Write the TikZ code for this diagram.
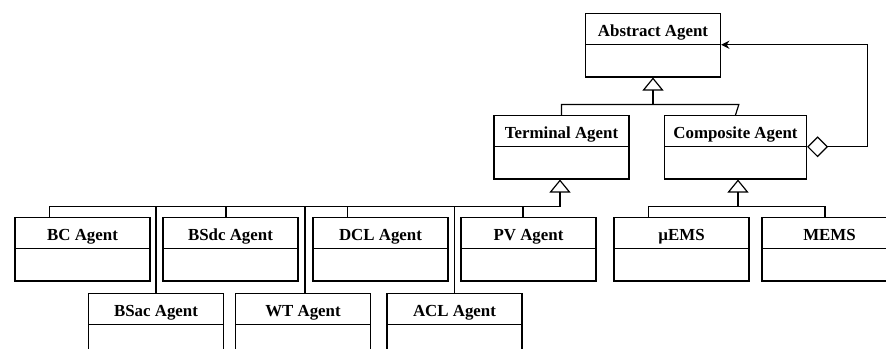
\documentclass[tikz,border=0pt]{standalone}
\usepackage{fontspec}
\setmainfont{Liberation Serif}
\usetikzlibrary{shapes.multipart, arrows.meta, calc}
\newcommand{\hdstrut}{\rule[-0.24cm]{0pt}{0.9cm}}
\newcommand{\bdstrut}{\rule{0pt}{0.93cm}}

\begin{document}
\begin{tikzpicture}[x=0.03cm, y=-0.03cm, line width=1pt,
    agent/.style={draw, rectangle split, rectangle split parts=2, anchor=north,
        minimum width=4.05cm, inner ysep=0pt, font=\fontsize{14.4}{16}\selectfont\bfseries},
    inh/.style={draw, -{Triangle[open, length=0.39cm, width=0.63cm]}},
    agg/.style={draw, {Diamond[open, length=0.63cm, width=0.63cm]}-{Stealth[length=0.25cm, width=0.25cm]}}
]
    \clip (0,0) rectangle (886,349);
    % top levels
    \node[agent] (abs)  at (653,13)    {\hdstrut Abstract Agent\nodepart{second}\bdstrut};
    \node[agent] (term) at (561.5,115) {\hdstrut Terminal Agent\nodepart{second}\bdstrut};
    \node[agent, minimum width=4.26cm] (comp) at (735.5,115) {\hdstrut Composite Agent\nodepart{second}\bdstrut};
    % terminal agents
    \node[agent] (bc)   at (82.5,217)  {\hdstrut BC Agent\nodepart{second}\bdstrut};
    \node[agent] (bsdc) at (230.5,217) {\hdstrut BSdc Agent\nodepart{second}\bdstrut};
    \node[agent] (dcl)  at (380.5,217) {\hdstrut DCL Agent\nodepart{second}\bdstrut};
    \node[agent] (pv)   at (528.5,217) {\hdstrut PV Agent\nodepart{second}\bdstrut};
    \node[agent] (bsac) at (156,293)   {\hdstrut BSac Agent\nodepart{second}\bdstrut};
    \node[agent] (wt)   at (303,293)   {\hdstrut WT Agent\nodepart{second}\bdstrut};
    \node[agent] (acl)  at (454.5,293) {\hdstrut ACL Agent\nodepart{second}\bdstrut};
    % composite agents
    \node[agent] (uems) at (681.5,217) {\hdstrut µEMS\nodepart{second}\bdstrut};
    \node[agent] (mems) at (829.5,217) {\hdstrut MEMS\nodepart{second}\bdstrut};

    \coordinate (aj) at ($(abs.south)+(0,27)$);
    \coordinate (tj) at ($(term.south)+(-1.5,27)$);
    \coordinate (cj) at ($(comp.south)+(2.5,27)$);
    \coordinate (ck) at ([xshift=0.1cm]comp.north);

    \draw[inh] (aj) -- (aj |- abs.south);
    \draw (term.north) |- (aj) -- (ck |- aj) -- (comp.north);

    \draw[inh] (tj) -- (tj |- term.south);
    \draw ([xshift=-1cm]bc.north) |- (tj);
    \draw ([xshift=-0.135cm]bsdc.north) |- (tj);
    \draw ([xshift=-1cm]dcl.north) |- (tj);
    \draw ([xshift=-0.165cm]pv.north) |- (tj);
    \draw (bsac.north) |- (tj);
    \draw ([xshift=0.06cm]wt.north) |- (tj);
    \draw (acl.north) |- (tj);

    \draw[inh] (cj) -- (cj |- comp.south);
    \draw ([xshift=-1cm]uems.north) |- (cj);
    \draw ([xshift=-0.135cm]mems.north) |- (cj);

    \draw[agg] (comp.text split east) -| ($(abs.text split east)+(146,0)$) -- (abs.text split east);
\end{tikzpicture}
\end{document}
